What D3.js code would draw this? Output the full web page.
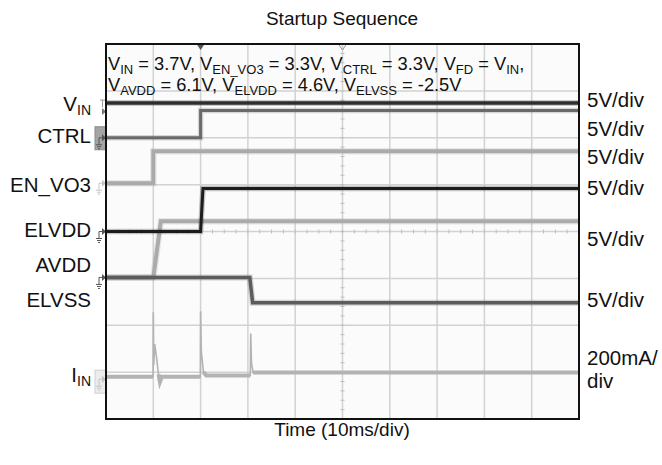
<!DOCTYPE html>
<html>
<head>
<meta charset="utf-8">
<script src="https://cdn.jsdelivr.net/npm/d3@7"></script>
<style>
  body { margin: 0; background: #fff; }
  svg text { font-family: "Liberation Sans", Arial, sans-serif; fill: #111; }
</style>
</head>
<body>
<svg id="chart" width="662" height="465"></svg>
<script>

// scope channels, top to bottom
const channelNames = ["VIN", "CTRL", "EN_VO3", "ELVDD", "AVDD", "ELVSS", "IIN"];
const channelScales = ["5V/div", "5V/div", "5V/div", "5V/div", "5V/div", "5V/div", "200mA/div"];
const unitsPerDiv = [5, 5, 5, 5, 5, 5, 200];
const groundDivs = [2.0, 2.0, 1.03, 0, -0.98, -0.98, -3.15];

// traces (time in ms, values in V or mA)
const vinTime = [0, 100];
const vinVolts = [3.7, 3.7];
const ctrlTime = [0, 20, 20, 100];
const ctrlVolts = [0, 0, 2.9, 2.9];
const enTime = [0, 10, 10, 100];
const enVolts = [0, 0, 3.4, 3.4];
const elvddTime = [0, 20, 20.5, 100];
const elvddVolts = [0, 0, 4.6, 4.6];
const avddTime = [0, 10, 11.6, 100];
const avddVolts = [0, 0, 6.0, 6.0];
const elvssTime = [0, 30.4, 31.0, 100];
const elvssVolts = [0, 0, -2.7, -2.7];
const iinTime = [0, 9.95, 10.0, 10.1, 10.3, 10.7, 11.1, 11.4, 11.8, 19.95, 20.0, 20.15, 20.6, 21.2, 30.5, 30.6, 30.75, 31.1, 100];
const iinMa = [10, 10, 285, 60, 150, 90, 20, -12, 10, 10, 290, 120, 30, 16, 16, 195, 70, 28, 28];

const traceTimes = [vinTime, ctrlTime, enTime, elvddTime, avddTime, elvssTime, iinTime];
const traceValues = [vinVolts, ctrlVolts, enVolts, elvddVolts, avddVolts, elvssVolts, iinMa];

const timeTicks = d3.range(0, 101, 10);
const divTicks = d3.range(-4, 5, 1);

const svg = d3.select("#chart");

const x = d3.scaleLinear().domain([0, 100]).range([106, 579]);
const y = d3.scaleLinear().domain([-4, 4]).range([419, 44]);

// plot background
svg.append("rect")
  .attr("x", x(0)).attr("y", y(4))
  .attr("width", x(100) - x(0)).attr("height", y(-4) - y(4))
  .attr("fill", "#fbfbfb");

// grid
svg.append("g").selectAll("line").data(timeTicks.slice(1, -1)).join("line")
  .attr("x1", d => x(d)).attr("x2", d => x(d))
  .attr("y1", y(4)).attr("y2", y(-4))
  .attr("stroke", "#d2d2d2").attr("stroke-width", 1.5);
svg.append("g").selectAll("line").data(divTicks.slice(1, -1)).join("line")
  .attr("y1", d => y(d)).attr("y2", d => y(d))
  .attr("x1", x(0)).attr("x2", x(100))
  .attr("stroke", "#d2d2d2").attr("stroke-width", 1.5);

// minor ticks on the centre lines
const vMinor = d3.range(-4, 4.001, 0.2);
svg.append("g").selectAll("line").data(vMinor).join("line")
  .attr("x1", x(50) - 2).attr("x2", x(50) + 2)
  .attr("y1", d => y(d)).attr("y2", d => y(d))
  .attr("stroke", "#bdbdbd").attr("stroke-width", 1);
const hMinor = d3.range(0, 100.001, 2.5);
svg.append("g").selectAll("line").data(hMinor).join("line")
  .attr("x1", d => x(d)).attr("x2", d => x(d))
  .attr("y1", y(0) - 2).attr("y2", y(0) + 2)
  .attr("stroke", "#bdbdbd").attr("stroke-width", 1);

// traces
const styles = [
  { color: "#2e2e2e", width: 3.5 },
  { color: "#6a6a6a", width: 3 },
  { color: "#aaaaaa", width: 4 },
  { color: "#1c1c1c", width: 3 },
  { color: "#ababab", width: 4 },
  { color: "#5c5c5c", width: 3.5 },
  { color: "#b3b3b3", width: 3 }
];
const drawOrder = [2, 4, 6, 0, 1, 5, 3];

const line = d3.line().x(d => x(d.t)).y(d => y(d.div));
const baseLine = d3.line().defined(d => d.v < 40).x(d => x(d.t)).y(d => y(d.div));

drawOrder.forEach(i => {
  const pts = traceTimes[i].map((t, k) => ({ t: t, v: traceValues[i][k], div: groundDivs[i] + traceValues[i][k] / unitsPerDiv[i] }));
  if (i === 6) {
    // current: thin spikes, thicker baseline
    svg.append("path").datum(pts)
      .attr("d", line).attr("fill", "none")
      .attr("stroke", styles[i].color).attr("stroke-width", 1.6);
    svg.append("path").datum(pts)
      .attr("d", baseLine).attr("fill", "none")
      .attr("stroke", styles[i].color).attr("stroke-width", styles[i].width + 1);
    return;
  }
  svg.append("path").datum(pts)
    .attr("d", line).attr("fill", "none")
    .attr("stroke", styles[i].color).attr("stroke-opacity", 0.25)
    .attr("stroke-width", styles[i].width + 2.5);
  svg.append("path").datum(pts)
    .attr("d", line).attr("fill", "none")
    .attr("stroke", styles[i].color)
    .attr("stroke-width", styles[i].width);
});

// ground markers at the left edge
const markerG = svg.append("g");
markerG.append("rect").attr("x", 95).attr("y", y(groundDivs[1]) - 11).attr("width", 11).attr("height", 23)
  .attr("fill", "#a4a4a4").attr("stroke", "#8a8a8a");
markerG.append("rect").attr("x", 95).attr("y", y(groundDivs[6]) - 9).attr("width", 11).attr("height", 23)
  .attr("fill", "#ececec").attr("stroke", "#cfcfcf");
[1, 2, 3, 4, 6].forEach(i => {
  const gy = y(groundDivs[i]);
  const col = (i === 2 || i === 6) ? "#c4c4c4" : "#555";
  markerG.append("path")
    .attr("d", `M${x(0) - 4},${gy - 3.5}L${x(0)},${gy}L${x(0) - 4},${gy + 3.5}Z`)
    .attr("fill", col);
  markerG.append("path")
    .attr("d", `M${x(0) - 4},${gy}H${x(0) - 7}V${gy + 7}M${x(0) - 10},${gy + 7}H${x(0) - 4}M${x(0) - 9},${gy + 9}H${x(0) - 5}M${x(0) - 8},${gy + 11}H${x(0) - 6}`)
    .attr("stroke", col).attr("fill", "none").attr("stroke-width", 1);
});
// VIN marker
const vinY = y(groundDivs[0] + vinVolts[0] / unitsPerDiv[0]);
markerG.append("path")
  .attr("d", `M${x(0) - 6},${vinY - 3}H${x(0) - 1}M${x(0) - 3.5},${vinY - 3}V${vinY + 4}`)
  .attr("stroke", "#999").attr("fill", "none");
markerG.append("path")
  .attr("d", `M${x(0) - 4},${vinY + 5}L${x(0)},${vinY + 8.5}L${x(0) - 4},${vinY + 12}Z`)
  .attr("fill", "#777");

// trigger markers on top
svg.append("path")
  .attr("d", `M${x(20) - 4},${y(4)}L${x(20) + 4},${y(4)}L${x(20)},${y(4) + 6}Z`)
  .attr("fill", "#555");
svg.append("path")
  .attr("d", `M${x(50) - 4},${y(4)}L${x(50) + 4},${y(4)}L${x(50)},${y(4) + 6}Z`)
  .attr("fill", "none").attr("stroke", "#999");

// frame
svg.append("rect")
  .attr("x", x(0)).attr("y", y(4))
  .attr("width", x(100) - x(0)).attr("height", y(-4) - y(4))
  .attr("fill", "none").attr("stroke", "#111").attr("stroke-width", 2);

// text with subscripts
function rich(sel, parts, size, subSize) {
  parts.forEach(p => {
    const sub = p[1] === "sub";
    sel.append("tspan")
      .attr("font-size", sub ? subSize : size)
      .attr("dy", p[2] || 0)
      .text(p[0]);
  });
}
const FS = 19, LS = 20.5, NS = 18.3, SS = 13;

const note1 = svg.append("text").attr("x", 108).attr("y", 70).attr("font-size", NS);
rich(note1, [["V"], ["IN", "sub", 3.5], [" = 3.7V, V", "", -3.5], ["EN_VO3", "sub", 3.5], [" = 3.3V, V", "", -3.5],
  ["CTRL", "sub", 3.5], [" = 3.3V, V", "", -3.5], ["FD", "sub", 3.5], [" = V", "", -3.5], ["IN", "sub", 3.5], [",", "", -3.5]], NS, SS);
const note2 = svg.append("text").attr("x", 108).attr("y", 91).attr("font-size", NS);
rich(note2, [["V"], ["AVDD", "sub", 3.5], [" = 6.1V, V", "", -3.5], ["ELVDD", "sub", 3.5], [" = 4.6V, V", "", -3.5],
  ["ELVSS", "sub", 3.5], [" = -2.5V", "", -3.5]], NS, SS);

// title and axis label
svg.append("text").attr("x", 342).attr("y", 25).attr("text-anchor", "middle")
  .attr("font-size", FS).text("Startup Sequence");
svg.append("text").attr("x", 342).attr("y", 436).attr("text-anchor", "middle")
  .attr("font-size", FS).text("Time (10ms/div)");

// channel labels on the left
const leftY = [104, 136, 185, 230, 265, 300, 375];
channelNames.forEach((name, i) => {
  const t = svg.append("text").attr("x", 91).attr("y", leftY[i] + 7).attr("text-anchor", "end").attr("font-size", LS);
  if (name === "VIN") rich(t, [["V"], ["IN", "sub", 4]], LS, 14);
  else if (name === "IIN") rich(t, [["I"], ["IN", "sub", 4]], LS, 14);
  else t.text(name);
});

// scale labels on the right
const rightY = [100, 129, 157, 188, 239, 300];
channelScales.forEach((s, i) => {
  if (i < 6) {
    svg.append("text").attr("x", 587).attr("y", rightY[i] + 7).attr("font-size", LS).text(s);
  } else {
    svg.append("text").attr("x", 587).attr("y", 365).attr("font-size", LS).text(s.slice(0, 6));
    svg.append("text").attr("x", 587).attr("y", 388).attr("font-size", LS).text(s.slice(6));
  }
});
</script>
</body>
</html>
